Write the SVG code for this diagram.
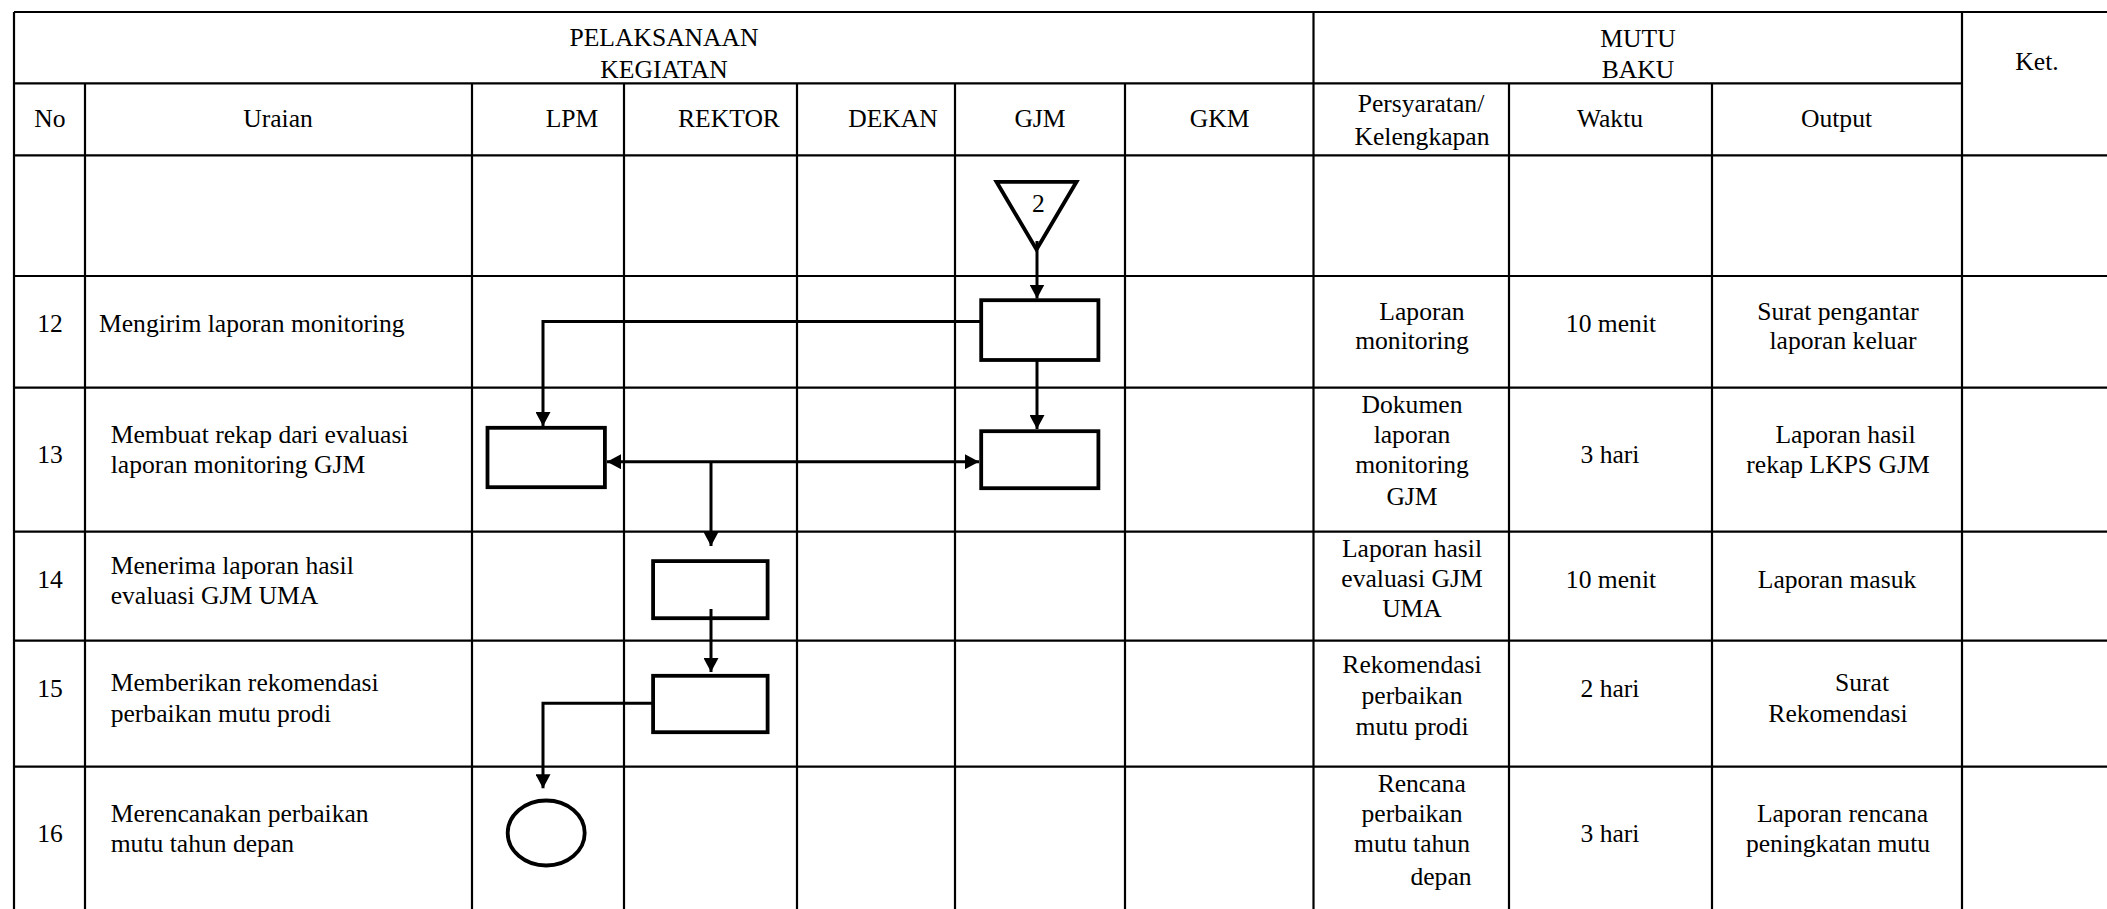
<svg xmlns="http://www.w3.org/2000/svg" width="2107" height="909" viewBox="0 0 2107 909">
<style>
  .grid { stroke: #000; stroke-width: 2.2; fill: none; }
  .t { font-family: "Liberation Serif", "Times New Roman", serif; font-size: 25.6px; fill: #000; }
  .c { text-anchor: middle; }
  .shape { fill: none; stroke: #000; stroke-width: 3.8; }
  .conn { fill: none; stroke: #000; stroke-width: 3; }
</style>
<defs>
  <marker id="arrow" markerUnits="userSpaceOnUse" markerWidth="14" markerHeight="15" refX="14" refY="7.5" orient="auto-start-reverse">
    <path d="M0,0 L14,7.5 L0,15 z" fill="#000"/>
  </marker>
</defs>
<rect x="0" y="0" width="2107" height="909" fill="#fff"/>

<g id="table" class="grid">
  <line x1="14" y1="12" x2="2107" y2="12"/>
  <line x1="14" y1="83.3" x2="1962" y2="83.3"/>
  <line x1="14" y1="155.3" x2="2107" y2="155.3"/>
  <line x1="14" y1="276" x2="2107" y2="276"/>
  <line x1="14" y1="387.7" x2="2107" y2="387.7"/>
  <line x1="14" y1="531.7" x2="2107" y2="531.7"/>
  <line x1="14" y1="640.7" x2="2107" y2="640.7"/>
  <line x1="14" y1="766.7" x2="2107" y2="766.7"/>
  <line x1="14" y1="12" x2="14" y2="909"/>
  <line x1="85" y1="83.3" x2="85" y2="909"/>
  <line x1="472" y1="83.3" x2="472" y2="909"/>
  <line x1="624" y1="83.3" x2="624" y2="909"/>
  <line x1="797" y1="83.3" x2="797" y2="909"/>
  <line x1="955" y1="83.3" x2="955" y2="909"/>
  <line x1="1125" y1="83.3" x2="1125" y2="909"/>
  <line x1="1313.5" y1="12" x2="1313.5" y2="909"/>
  <line x1="1509" y1="83.3" x2="1509" y2="909"/>
  <line x1="1712" y1="83.3" x2="1712" y2="909"/>
  <line x1="1962" y1="12" x2="1962" y2="909"/>
</g>

<g id="header" class="t c">
  <text x="664" y="46">PELAKSANAAN</text>
  <text x="664" y="77.5">KEGIATAN</text>
  <text x="1638" y="46.5">MUTU</text>
  <text x="1638" y="77.5">BAKU</text>
  <text x="2037" y="70">Ket.</text>
  <text x="50" y="126.7">No</text>
  <text x="278" y="126.7">Uraian</text>
  <text x="572" y="126.7">LPM</text>
  <text x="729" y="126.7">REKTOR</text>
  <text x="893" y="126.7">DEKAN</text>
  <text x="1040" y="126.7">GJM</text>
  <text x="1219.6" y="126.7">GKM</text>
  <text x="1421" y="111.7">Persyaratan/</text>
  <text x="1422" y="145">Kelengkapan</text>
  <text x="1610" y="126.7">Waktu</text>
  <text x="1836.5" y="126.7">Output</text>
</g>

<g id="row12" class="t">
  <text class="c" x="50" y="331.7">12</text>
  <text x="99" y="331.7">Mengirim laporan monitoring</text>
  <text class="c" x="1422" y="320">Laporan</text>
  <text class="c" x="1412" y="349.3">monitoring</text>
  <text class="c" x="1611" y="331.7">10 menit</text>
  <text class="c" x="1838" y="320">Surat pengantar</text>
  <text class="c" x="1843" y="349.3">laporan keluar</text>
</g>
<g id="row13" class="t">
  <text class="c" x="50" y="462.7">13</text>
  <text x="110.7" y="443.3">Membuat rekap dari evaluasi</text>
  <text x="110.7" y="473.3">laporan monitoring GJM</text>
  <text class="c" x="1412" y="412.7">Dokumen</text>
  <text class="c" x="1412" y="443.3">laporan</text>
  <text class="c" x="1412" y="473.3">monitoring</text>
  <text class="c" x="1412" y="505">GJM</text>
  <text class="c" x="1610" y="462.7">3 hari</text>
  <text class="c" x="1845.5" y="443.3">Laporan hasil</text>
  <text class="c" x="1838" y="473.3">rekap LKPS GJM</text>
</g>
<g id="row14" class="t">
  <text class="c" x="50" y="588.3">14</text>
  <text x="110.7" y="574">Menerima laporan hasil</text>
  <text x="110.7" y="604.3">evaluasi GJM UMA</text>
  <text class="c" x="1412" y="556.7">Laporan hasil</text>
  <text class="c" x="1412" y="586.7">evaluasi GJM</text>
  <text class="c" x="1412" y="617">UMA</text>
  <text class="c" x="1611" y="588.3">10 menit</text>
  <text class="c" x="1837" y="588.3">Laporan masuk</text>
</g>
<g id="row15" class="t">
  <text class="c" x="50" y="696.7">15</text>
  <text x="110.7" y="690.7">Memberikan rekomendasi</text>
  <text x="110.7" y="721.7">perbaikan mutu prodi</text>
  <text class="c" x="1412" y="672.7">Rekomendasi</text>
  <text class="c" x="1412" y="704">perbaikan</text>
  <text class="c" x="1412" y="735">mutu prodi</text>
  <text class="c" x="1610" y="696.7">2 hari</text>
  <text class="c" x="1862" y="690.7">Surat</text>
  <text class="c" x="1838" y="721.7">Rekomendasi</text>
</g>
<g id="row16" class="t">
  <text class="c" x="50" y="841.7">16</text>
  <text x="110.7" y="821.7">Merencanakan perbaikan</text>
  <text x="110.7" y="852.3">mutu tahun depan</text>
  <text class="c" x="1421.7" y="791.7">Rencana</text>
  <text class="c" x="1412" y="821.7">perbaikan</text>
  <text class="c" x="1412" y="852.3">mutu tahun</text>
  <text class="c" x="1441" y="885">depan</text>
  <text class="c" x="1610" y="841.7">3 hari</text>
  <text class="c" x="1842.5" y="821.7">Laporan rencana</text>
  <text class="c" x="1838" y="852.3">peningkatan mutu</text>
</g>

<g id="connectors" class="conn">
  <line x1="1037" y1="241" x2="1037" y2="298.5" marker-end="url(#arrow)"/>
  <polyline points="981,321.5 543,321.5 543,426" marker-end="url(#arrow)"/>
  <line x1="1037" y1="360" x2="1037" y2="429" marker-end="url(#arrow)"/>
  <line x1="607" y1="461.7" x2="979" y2="461.7" marker-start="url(#arrow)" marker-end="url(#arrow)"/>
  <line x1="711" y1="461.7" x2="711" y2="546" marker-end="url(#arrow)"/>
  <line x1="711" y1="609" x2="711" y2="672" marker-end="url(#arrow)"/>
  <polyline points="653,703.3 543,703.3 543,788.3" marker-end="url(#arrow)"/>
</g>

<g id="node-offpage-2">
  <polygon class="shape" points="996.5,181.8 1076.5,181.8 1036.5,249.5"/>
  <text class="t c" x="1038.3" y="212.3">2</text>
</g>
<g id="node-gjm-12"><rect class="shape" x="981.2" y="300.2" width="117.2" height="59.8"/></g>
<g id="node-gjm-13"><rect class="shape" x="981.2" y="431.2" width="117.2" height="57"/></g>
<g id="node-lpm-13"><rect class="shape" x="487.5" y="427.8" width="117.4" height="59.4"/></g>
<g id="node-rektor-14"><rect class="shape" x="653.1" y="561.1" width="114.5" height="57.1"/></g>
<g id="node-rektor-15"><rect class="shape" x="653.1" y="675.8" width="114.5" height="56.4"/></g>
<g id="node-lpm-16"><ellipse class="shape" cx="546.2" cy="833" rx="38.5" ry="32.5"/></g>
</svg>
